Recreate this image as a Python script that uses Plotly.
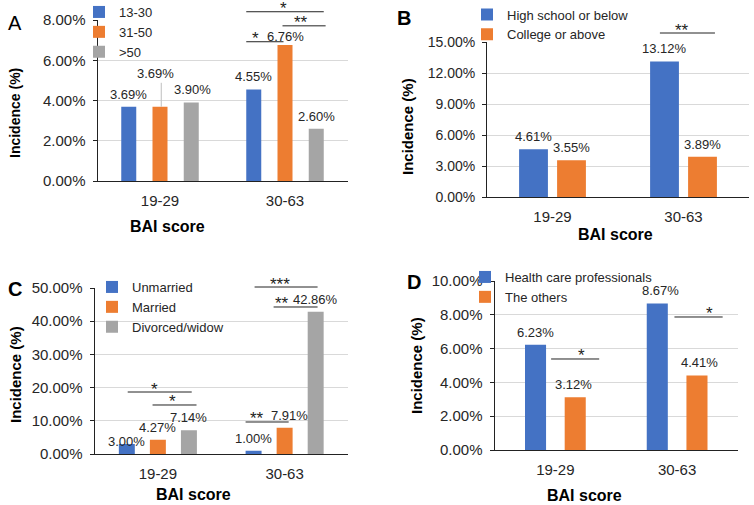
import plotly.graph_objects as go

W, H = 754, 505
FONT = "Arial, Liberation Sans, sans-serif"

# ---------------- data ----------------
categories = ["19-29", "30-63"]

a_names = ["13-30", "31-50", ">50"]
a_13_30 = [3.69, 4.55]
a_31_50 = [3.69, 6.76]
a_over_50 = [3.90, 2.60]

b_names = ["High school or below", "College or above"]
b_high_school = [4.61, 13.12]
b_college = [3.55, 3.89]

c_names = ["Unmarried", "Married", "Divorced/widow"]
c_unmarried = [3.00, 1.00]
c_married = [4.27, 7.91]
c_divorced = [7.14, 42.86]

d_names = ["Health care professionals", "The others"]
d_hcp = [6.23, 8.67]
d_others = [3.12, 4.41]

y_max = {"A": 8, "B": 15, "C": 50, "D": 10}
y_step = {"A": 2, "B": 3, "C": 10, "D": 2}

# significance brackets: panel, x0, x1 (category units), level (%), label, label x
brackets = [
    ("A", 0.69, 1.31, 8.41, "*", 0.985),
    ("A", 0.98, 1.325, 7.71, "**", 1.124),
    ("A", 0.69, 0.988, 6.92, "*", 0.763),
    ("B", 0.82, 1.24, 15.87, "**", 0.988),
    ("C", -0.238, 0.267, 18.67, "*", -0.025),
    ("C", -0.042, 0.305, 14.76, "*", 0.117),
    ("C", 0.763, 1.26, 50.3, "***", 0.96),
    ("C", 0.913, 1.26, 44.28, "**", 0.976),
    ("C", 0.692, 1.032, 9.64, "**", 0.779),
    ("D", -0.035, 0.36, 5.385, "*", 0.212),
    ("D", 0.978, 1.374, 7.87, "*", 1.267),
]

BLUE, ORANGE, GRAY = "#4472C4", "#ED7D31", "#A5A5A5"

# ---------------- layout geometry (pixels) ----------------
panels = {
    "A": dict(ax="", x=(97.5, 347.5), y=(20, 181), slot=0.25, width=0.12, legend="legend",
              series=[a_13_30, a_31_50, a_over_50], names=a_names, colors=[BLUE, ORANGE, GRAY],
              ytick=15),
    "B": dict(ax="2", x=(487, 749), y=(42, 197), slot=0.29, width=0.22, legend="legend2",
              series=[b_high_school, b_college], names=b_names, colors=[BLUE, ORANGE],
              ytick=14),
    "C": dict(ax="3", x=(94.5, 348), y=(288, 454), slot=0.245, width=0.126, legend="legend3",
              series=[c_unmarried, c_married, c_divorced], names=c_names, colors=[BLUE, ORANGE, GRAY],
              ytick=15),
    "D": dict(ax="4", x=(494.5, 738), y=(281, 450), slot=0.326, width=0.173, legend="legend4",
              series=[d_hcp, d_others], names=d_names, colors=[BLUE, ORANGE],
              ytick=15),
}

# per-label pixel adjustments (panel, series, category) -> (dx, dy)
label_adjust = {
    ("A", 1, 0): (-4.5, 21),
    ("A", 2, 0): (1, 1),
    ("A", 1, 1): (0, -4),
    ("C", 0, 0): (0, -9.5),
    ("C", 1, 1): (5, 0),
    ("D", 1, 0): (-2, 0),
    ("D", 0, 1): (3, 0),
    ("D", 1, 1): (2.5, 0),
}


def px_x(px):
    return px / W


def px_y(py):
    return 1 - py / H


def ypaper(p, v):
    lo, hi = px_y(panels[p]["y"][1]), px_y(panels[p]["y"][0])
    return lo + v / y_max[p] * (hi - lo)


fig = go.Figure()
annotations = []
shapes = []

for p, cfg in panels.items():
    xa, ya = "x" + cfg["ax"], "y" + cfg["ax"]
    k = len(cfg["series"])
    for i, (name, vals, col) in enumerate(zip(cfg["names"], cfg["series"], cfg["colors"])):
        center = (i - (k - 1) / 2) * cfg["slot"]
        fig.add_trace(go.Bar(
            x=categories, y=vals, name=name, marker=dict(color=col, line=dict(width=0)),
            width=[cfg["width"]] * len(vals), offset=[center - cfg["width"] / 2] * len(vals),
            xaxis=xa, yaxis=ya, legend=cfg["legend"], hoverinfo="skip",
        ))
        for j, v in enumerate(vals):
            dx, dy = label_adjust.get((p, i, j), (0, 0))
            annotations.append(dict(
                x=j + center, y=v, xref=xa, yref=ya, text=f"{v:.2f}%", showarrow=False,
                xanchor="center", yanchor="middle", yshift=12.5 + dy, xshift=dx,
                font=dict(family=FONT, size=13, color="#262626"),
            ))
    axis_suffix = cfg["ax"]
    fig.update_layout(**{
        "xaxis" + axis_suffix: dict(
            domain=[px_x(cfg["x"][0]), px_x(cfg["x"][1])], anchor=ya, type="category",
            range=[-0.5, 1.5], showline=True, linecolor="#222", linewidth=1, ticks="",
            showgrid=False, tickfont=dict(family=FONT, size=15, color="#262626"),
            ticklabelstandoff=6,
        ),
        "yaxis" + axis_suffix: dict(
            domain=[px_y(cfg["y"][1]), px_y(cfg["y"][0])], anchor=xa,
            range=[0, y_max[p]], dtick=y_step[p], tick0=0, tickformat=".2f", ticksuffix="%",
            showline=True, linecolor="#222", linewidth=1, ticks="outside", ticklen=4,
            tickcolor="#222", gridcolor="#D9D9D9", zeroline=False,
            tickfont=dict(family=FONT, size=cfg["ytick"], color="#262626"),
            ticklabelstandoff=4,
        ),
    })

# leader line for the raised label in panel A
shapes.append(dict(type="line", xref="x", yref="y", x0=0.01, x1=0.01, y0=a_31_50[0], y1=4.88,
                   line=dict(color="#BFBFBF", width=1)))

# brackets
for p, x0, x1, lvl, lab, lx in brackets:
    xa = "x" + panels[p]["ax"]
    yp = ypaper(p, lvl)
    shapes.append(dict(type="line", xref=xa, yref="paper", x0=x0, x1=x1, y0=yp, y1=yp,
                       line=dict(color="#222", width=1)))
    annotations.append(dict(x=lx, y=yp, xref=xa, yref="paper", text=lab, showarrow=False,
                            xanchor="center", yanchor="middle", yshift=3,
                            font=dict(family=FONT, size=17, color="#222")))

# panel letters
for txt, x, y, bold in [("A", 15, 23, False), ("B", 404, 18, True), ("C", 15, 289, True), ("D", 414, 282, True)]:
    annotations.append(dict(x=px_x(x), y=px_y(y), xref="paper", yref="paper",
                            text=f"<b>{txt}</b>" if bold else txt, showarrow=False,
                            xanchor="center", yanchor="middle",
                            font=dict(family=FONT, size=20, color="#000")))

# axis titles
for x, y, size in [(15, 113, 14), (407, 127, 15), (15, 375, 15), (416, 366, 15)]:
    annotations.append(dict(x=px_x(x), y=px_y(y), xref="paper", yref="paper",
                            text="<b>Incidence (%)</b>", showarrow=False, textangle=-90,
                            xanchor="center", yanchor="middle",
                            font=dict(family=FONT, size=size, color="#000")))
for x, y in [(167, 227), (615, 235), (193, 494), (584, 495)]:
    annotations.append(dict(x=px_x(x), y=px_y(y), xref="paper", yref="paper",
                            text="<b>BAI score</b>", showarrow=False,
                            xanchor="center", yanchor="middle",
                            font=dict(family=FONT, size=16, color="#000")))

legend_style = dict(bgcolor="rgba(0,0,0,0)", borderwidth=0, tracegroupgap=0,
                    font=dict(family=FONT, size=13, color="#262626"),
                    xanchor="left", yanchor="top")
fig.update_layout(
    width=W, height=H, margin=dict(l=0, r=0, t=0, b=0, autoexpand=False),
    paper_bgcolor="white", plot_bgcolor="white", barmode="overlay",
    annotations=annotations, shapes=shapes, showlegend=True,
    legend=dict(x=px_x(79), y=px_y(-3), **legend_style),
    legend2=dict(x=px_x(467), y=px_y(-0.5), **legend_style),
    legend3=dict(x=px_x(92), y=px_y(272), **legend_style),
    legend4=dict(x=px_x(465), y=px_y(262), **legend_style),
)

fig.write_html("out.html", config={"displayModeBar": False},
               post_script="document.body.style.margin='0';document.body.style.overflow='hidden';")
